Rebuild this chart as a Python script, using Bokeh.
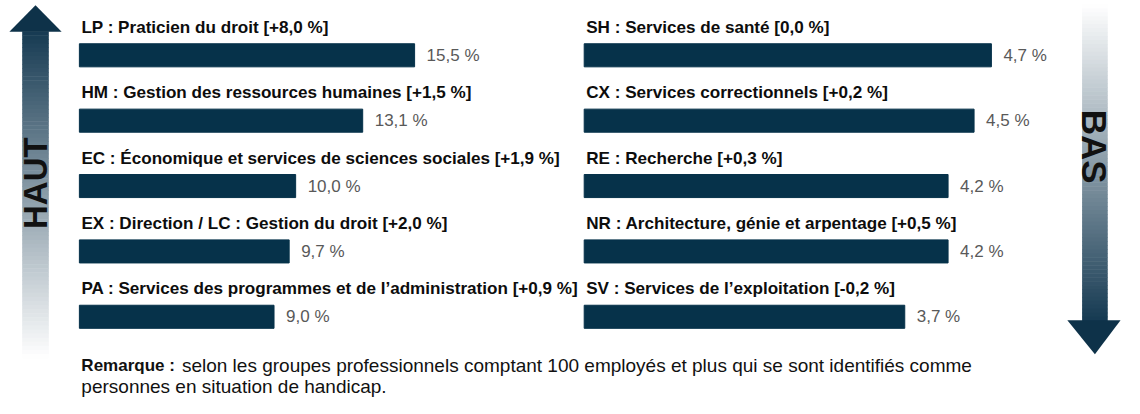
import math
from bokeh.plotting import figure
from bokeh.models import Range1d
from bokeh.embed import file_html
from bokeh.resources import INLINE
from bokeh.core.properties import value

# ---------------- data ----------------
left_labels = [
    "LP : Praticien du droit [+8,0 %]",
    "HM : Gestion des ressources humaines [+1,5 %]",
    "EC : Économique et services de sciences sociales [+1,9 %]",
    "EX : Direction / LC : Gestion du droit [+2,0 %]",
    "PA : Services des programmes et de l’administration [+0,9 %]",
]
left_values = [15.5, 13.1, 10.0, 9.7, 9.0]

right_labels = [
    "SH : Services de santé [0,0 %]",
    "CX : Services correctionnels [+0,2 %]",
    "RE : Recherche [+0,3 %]",
    "NR : Architecture, génie et arpentage [+0,5 %]",
    "SV : Services de l’exploitation [-0,2 %]",
]
right_values = [4.7, 4.5, 4.2, 4.2, 3.7]

note_bold = "Remarque :"
note_line1 = "selon les groupes professionnels comptant 100 employés et plus qui se sont identifiés comme"
note_line2 = "personnes en situation de handicap."

# ---------------- layout ----------------
W, H = 1124, 398
SX, SY = W / 1140.0, H / 414.0     # reference-pixel -> figure-pixel
def X(v): return v * SX
def Y(v): return v * SY

ROW, Y0 = Y(68.0), Y(57.0)
L_X0, L_SCALE = X(80.0), X(340.0) / 15.5
R_X0, R_SCALE = X(592.0), X(413.0) / 4.7
BAR_C = "#06324a"
FONT = "Liberation Sans"

def fmt(v):
    return ("%.1f" % v).replace(".", ",") + " %"

p = figure(width=W, height=H, output_backend="svg", toolbar_location=None,
           x_range=Range1d(0, W), y_range=Range1d(H, 0), min_border=0)
p.axis.visible = False
p.grid.visible = False
p.outline_line_color = None
p.background_fill_color = "white"
p.border_fill_color = "white"

p.extra_x_ranges = {
    "L": Range1d(-L_X0 / L_SCALE, (W - L_X0) / L_SCALE),
    "R": Range1d(-R_X0 / R_SCALE, (W - R_X0) / R_SCALE),
}
p.extra_y_ranges = {"row": Range1d((H - Y0) / ROW, -Y0 / ROW)}

idx = list(range(5))
label_off = Y(29.0) / ROW

for rng, labels, vals in (("L", left_labels, left_values), ("R", right_labels, right_values)):
    p.hbar(y=idx, left=0, right=vals, height=Y(24.0) / ROW, color=BAR_C,
           x_range_name=rng, y_range_name="row")
    p.text(x=[0] * 5, y=[i - label_off for i in idx], text=labels, x_offset=2,
           text_baseline="middle", text_align="left", text_font=value(FONT),
           text_font_style="bold", text_font_size="17.1px", text_color="#0d0d0d",
           x_range_name=rng, y_range_name="row")
    p.text(x=vals, y=idx, text=[fmt(v) for v in vals], x_offset=12,
           text_baseline="middle", text_align="left", text_font=value(FONT),
           text_font_size="17px", text_color="#595959",
           x_range_name=rng, y_range_name="row")

# ---------------- gradient arrows (decoration, px coords) ----------------
def lerp(c1, c2, t):
    a = [int(c1[i:i + 2], 16) for i in (1, 3, 5)]
    b = [int(c2[i:i + 2], 16) for i in (1, 3, 5)]
    return "#%02x%02x%02x" % tuple(int(round(a[k] + (b[k] - a[k]) * t)) for k in range(3))

DARK, LIGHT, HEAD = "#163a52", "#ffffff", "#0e3249"
N = 80
# left (up) arrow
top, bot = Y(32.0), Y(372.0)
for k in range(N):
    y1 = top + (bot - top) * k / N
    y2 = top + (bot - top) * (k + 1) / N
    p.quad(left=X(22), right=X(49), top=y1, bottom=y2 + 0.5,
           color=lerp(DARK, LIGHT, (k + 0.5) / N), line_color=None)
p.patch(x=[X(9), X(62), X(35.5)], y=[Y(32.5), Y(32.5), Y(5)], color=HEAD, line_color=None)

# right (down) arrow
top, bot = Y(4.0), Y(333.0)
for k in range(N):
    y1 = top + (bot - top) * k / N
    y2 = top + (bot - top) * (k + 1) / N
    p.quad(left=X(1097), right=X(1123), top=y1, bottom=y2 + 0.5,
           color=lerp(LIGHT, DARK, (k + 0.5) / N), line_color=None)
p.patch(x=[X(1082), X(1136), X(1110)], y=[Y(332.5), Y(332.5), Y(368)], color=HEAD, line_color=None)

p.text(x=[X(35.5)], y=[Y(190)], text=["HAUT"], angle=math.pi / 2, text_align="center",
       text_baseline="middle", text_font=value(FONT), text_font_style="bold",
       text_font_size="33px", text_color="#111111")
p.text(x=[X(1110)], y=[Y(152)], text=["BAS"], angle=-math.pi / 2, text_align="center",
       text_baseline="middle", text_font=value(FONT), text_font_style="bold",
       text_font_size="35px", text_color="#111111")

# ---------------- note ----------------
NOTE_FS = "19px"
p.text(x=[X(82)], y=[Y(380)], text=[note_bold], text_baseline="middle", text_font=value(FONT),
       text_font_style="bold", text_font_size="17px", text_color="#111111")
p.text(x=[X(184)], y=[Y(380)], text=[note_line1], text_baseline="middle", text_font=value(FONT),
       text_font_size=NOTE_FS, text_color="#111111")
p.text(x=[X(82)], y=[Y(401)], text=[note_line2], text_baseline="middle", text_font=value(FONT),
       text_font_size=NOTE_FS, text_color="#111111")

open("out.html", "w").write(file_html(p, INLINE))
